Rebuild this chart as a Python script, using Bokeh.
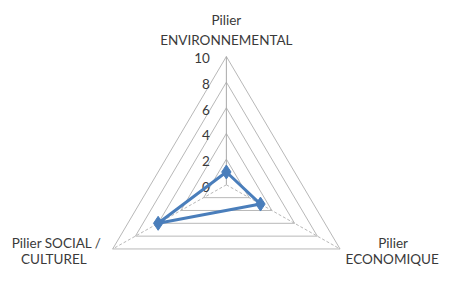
import numpy as np
from bokeh.plotting import figure
from bokeh.models import Range1d
from bokeh.core.properties import value
from bokeh.embed import file_html
from bokeh.resources import INLINE

# ---- data ----
categories_line1 = ["Pilier", "Pilier", "Pilier SOCIAL /"]
categories_line2 = ["ENVIRONNEMENTAL", "ECONOMIQUE", "CULTUREL"]
series_values = [1, 3, 6]
tick_values = [0, 2, 4, 6, 8, 10]
tick_labels = ["0", "2", "4", "6", "8", "10"]

# ---- layout ----
W, H = 444, 266            # figure size (fits the 460x282 window with 8px margin)
REF_W, REF_H = 460, 282    # design canvas, scaled into the figure
PX = 13.6                  # design pixels per value unit
CX, CY = 234.0, 195.4      # centre in design pixels (from top-left)
vmax = max(tick_values)
FONT = "13.5px"

angles = np.radians([90, -30, 210])
ux, uy = np.cos(angles), np.sin(angles)

p = figure(width=W, height=H, output_backend="svg", toolbar_location=None,
           x_range=Range1d(-CX / PX, (REF_W - CX) / PX),
           y_range=Range1d(-(REF_H - CY) / PX, CY / PX),
           min_border=0, background_fill_color="white", border_fill_color="white")
p.axis.visible = False
p.grid.visible = False
p.outline_line_color = None

grid_color = "#b8b8b8"
xs, ys = [], []
for t in tick_values[1:]:
    xs.append(list(ux * t) + [ux[0] * t])
    ys.append(list(uy * t) + [uy[0] * t])
p.multi_line(xs, ys, line_color=grid_color, line_width=1)

p.line([0, ux[0] * vmax], [0, uy[0] * vmax], line_color="#a8a8a8", line_width=1)
for k in (1, 2):
    p.line([0, ux[k] * vmax], [0, uy[k] * vmax], line_color=grid_color,
           line_width=1, line_dash="3 2")

p.text(x=[-17 / PX] * len(tick_values), y=[v - 2 / PX for v in tick_values], text=tick_labels,
       text_align="right", text_baseline="middle", text_font=value("Lato"),
       text_font_size=FONT, text_color="#3a3a3a")

vx = [ux[i] * v for i, v in enumerate(series_values)]
vy = [uy[i] * v for i, v in enumerate(series_values)]
p.line(vx + [vx[0]], vy + [vy[0]], line_color="#4A7EBB", line_width=3)
p.scatter(vx, vy, marker="diamond", size=14, fill_color="#4A7EBB", line_color="#4A7EBB")

# category labels, offsets in design pixels from each outer vertex
off1 = [(0, -38.5), (55, -6.4), (-58, -6.4)]
off2 = [(0, -17.5), (54, 11.0), (-61, 11.0)]
for offs, texts in ((off1, categories_line1), (off2, categories_line2)):
    lx = [ux[i] * vmax + offs[i][0] / PX for i in range(3)]
    ly = [uy[i] * vmax - offs[i][1] / PX for i in range(3)]
    p.text(x=lx, y=ly, text=texts, text_align="center", text_baseline="middle",
           text_font=value("Lato"), text_font_size=FONT, text_color="#3a3a3a")

open("out.html", "w").write(file_html(p, INLINE))
